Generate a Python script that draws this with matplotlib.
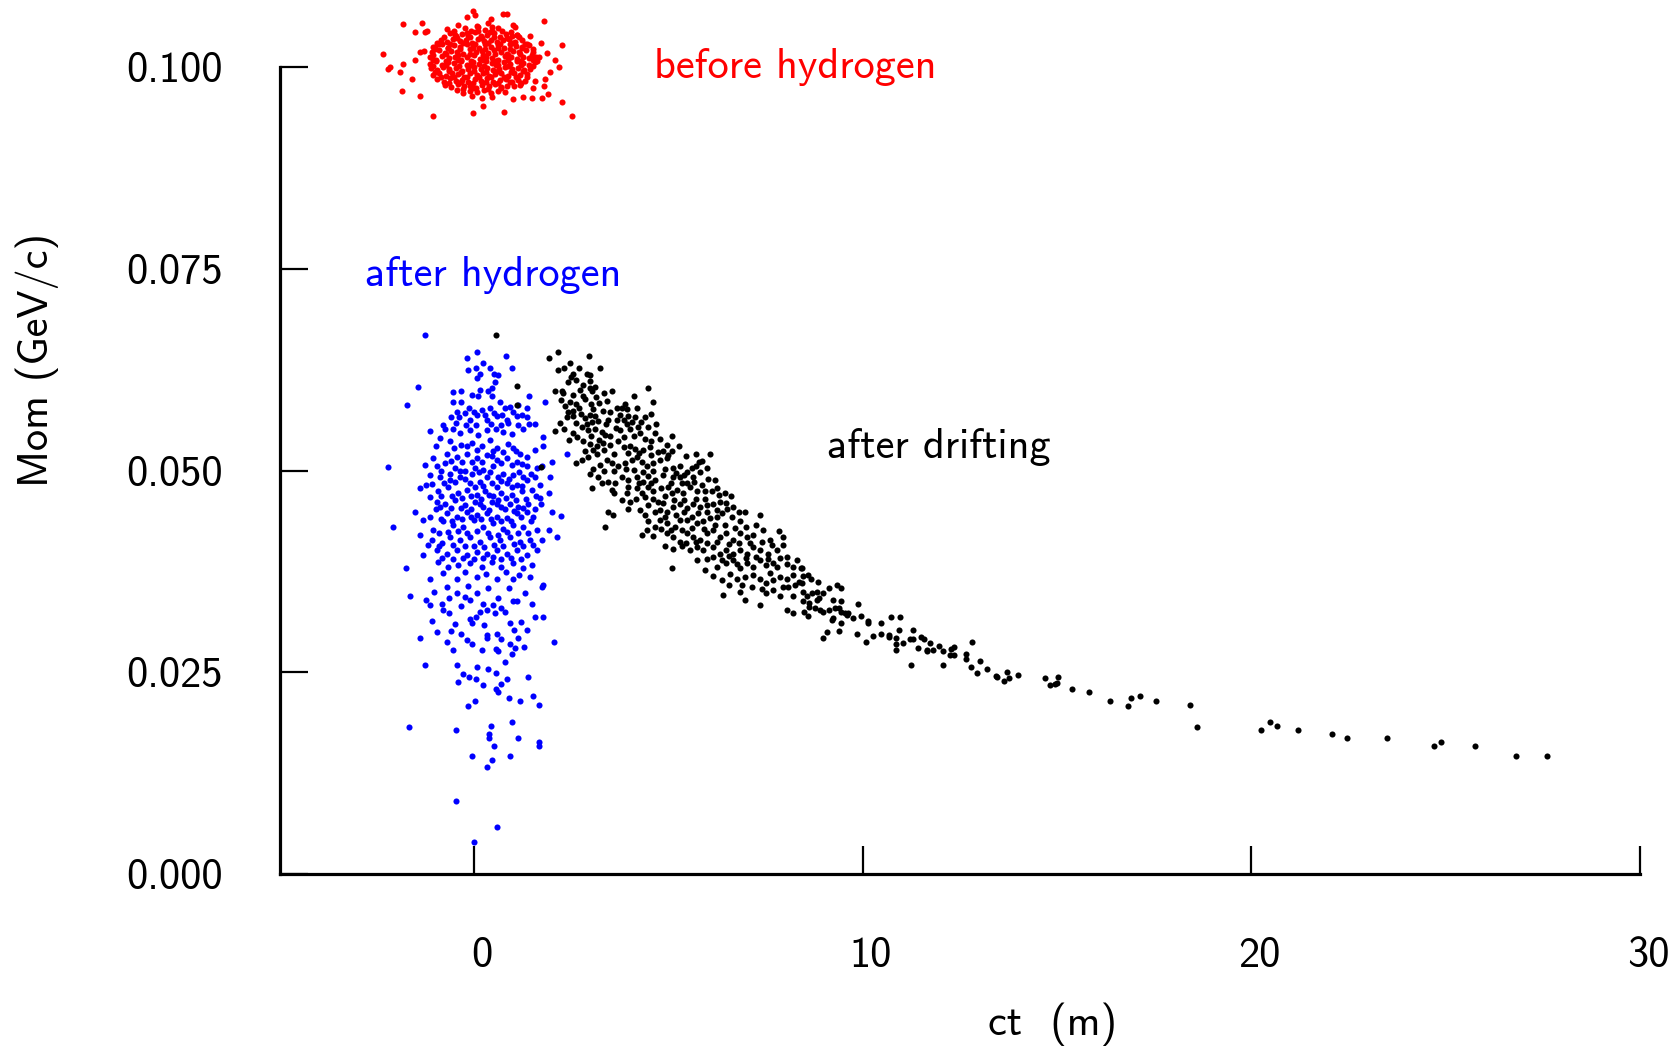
import numpy as np
import matplotlib.pyplot as plt
from matplotlib.ticker import FixedLocator, FormatStrFormatter
from matplotlib.transforms import ScaledTranslation

# Computer Modern sans, like the original LaTeX/gnuplot output
plt.rcParams['font.family'] = ['cmss10', 'DejaVu Sans']
plt.rcParams['axes.unicode_minus'] = False

# points: (ct in m, Mom in MeV/c)
before_h = [
    # core
    (-0.25, 104.8), (-0.08, 104.5), (0.10, 104.9), (0.27, 104.6), (0.45, 104.4), (0.62, 104.8),
    (-0.62, 104.2), (-0.47, 103.8), (-0.31, 104.1), (-0.15, 103.9), (0.01, 104.3), (0.17, 103.8),
    (0.33, 104.0), (0.50, 104.2), (0.66, 103.7), (0.82, 104.1), (0.98, 103.9), (1.10, 104.0),
    (-0.85, 103.4), (-0.70, 103.1), (-0.54, 103.5), (-0.38, 103.2), (-0.22, 103.3), (-0.06, 103.0),
    (0.10, 103.5), (0.26, 103.2), (0.42, 103.4), (0.58, 103.1), (0.74, 103.3), (0.90, 103.5),
    (1.06, 103.1), (1.22, 103.3),
    (-1.00, 102.5), (-0.84, 102.8), (-0.68, 102.4), (-0.52, 102.7), (-0.36, 102.5), (-0.20, 102.9),
    (-0.04, 102.6), (0.12, 102.4), (0.28, 102.8), (0.44, 102.5), (0.60, 102.7), (0.76, 102.4),
    (0.92, 102.8), (1.08, 102.6), (1.24, 102.5), (1.42, 102.7),
    (-1.08, 101.8), (-0.92, 102.1), (-0.76, 101.7), (-0.60, 102.0), (-0.44, 101.9), (-0.28, 101.6),
    (-0.12, 102.2), (0.04, 101.8), (0.20, 102.0), (0.36, 101.7), (0.52, 102.1), (0.68, 101.9),
    (0.84, 101.6), (1.00, 102.0), (1.16, 101.8), (1.32, 102.1), (1.50, 101.9),
    (-1.14, 101.2), (-0.98, 100.9), (-0.82, 101.4), (-0.66, 101.1), (-0.50, 101.3), (-0.34, 100.9),
    (-0.18, 101.2), (-0.02, 101.5), (0.14, 101.0), (0.30, 101.3), (0.46, 101.1), (0.62, 100.9),
    (0.78, 101.4), (0.94, 101.2), (1.10, 101.0), (1.26, 101.3), (1.42, 101.1), (1.58, 101.2),
    (-1.15, 100.4), (-0.99, 100.7), (-0.83, 100.3), (-0.67, 100.6), (-0.51, 100.5), (-0.35, 100.8),
    (-0.19, 100.3), (-0.03, 100.6), (0.13, 100.4), (0.29, 100.7), (0.45, 100.5), (0.61, 100.2),
    (0.77, 100.6), (0.93, 100.4), (1.09, 100.7), (1.25, 100.5), (1.41, 100.3), (1.57, 100.6),
    (-1.12, 99.9), (-0.96, 99.6), (-0.80, 100.0), (-0.64, 99.7), (-0.48, 99.9), (-0.32, 99.5),
    (-0.16, 99.8), (0.00, 100.0), (0.16, 99.7), (0.32, 99.9), (0.48, 99.6), (0.64, 99.8),
    (0.80, 100.0), (0.96, 99.7), (1.12, 99.9), (1.28, 99.6), (1.44, 99.8),
    (-1.06, 99.0), (-0.90, 99.3), (-0.74, 98.9), (-0.58, 99.2), (-0.42, 99.1), (-0.26, 98.8),
    (-0.10, 99.3), (0.06, 99.0), (0.22, 99.2), (0.38, 98.9), (0.54, 99.1), (0.70, 99.3),
    (0.86, 98.9), (1.02, 99.2), (1.18, 99.0), (1.36, 99.1),
    (-0.95, 98.5), (-0.79, 98.2), (-0.63, 98.6), (-0.47, 98.3), (-0.31, 98.4), (-0.15, 98.1),
    (0.01, 98.5), (0.17, 98.3), (0.33, 98.6), (0.49, 98.2), (0.65, 98.4), (0.81, 98.5),
    (0.97, 98.2), (1.13, 98.4), (1.30, 98.3),
    (-0.75, 97.8), (-0.59, 97.5), (-0.43, 97.9), (-0.27, 97.6), (-0.11, 97.7), (0.05, 97.4),
    (0.21, 97.8), (0.37, 97.6), (0.53, 97.9), (0.69, 97.5), (0.85, 97.7), (1.01, 97.6), (1.17, 97.8),
    (-0.45, 97.1), (-0.28, 96.8), (-0.10, 97.0), (0.08, 96.9), (0.26, 97.2), (0.44, 96.8),
    (0.62, 97.0), (0.80, 96.9), (-0.05, 96.4), (0.20, 96.1), (0.45, 96.3),
    (-0.52, 104.4), (-0.20, 104.2), (0.10, 104.4), (0.40, 104.3), (0.72, 104.5), (0.95, 104.3),
    (-0.78, 103.7), (-0.45, 103.6), (-0.12, 103.7), (0.20, 103.6), (0.52, 103.7), (0.85, 103.6),
    (1.15, 103.7), (-0.95, 103.0), (-0.62, 102.9), (-0.30, 103.0), (0.02, 102.9), (0.34, 103.0),
    (0.66, 102.9), (0.98, 103.0), (1.30, 102.9), (-1.00, 102.2), (-0.68, 102.3), (-0.36, 102.2),
    (-0.04, 102.3), (0.28, 102.2), (0.60, 102.3), (0.92, 102.2), (1.24, 102.3), (1.50, 102.2),
    (-1.06, 101.5), (-0.74, 101.6), (-0.42, 101.5), (-0.10, 101.6), (0.22, 101.5), (0.54, 101.6),
    (0.86, 101.5), (1.18, 101.6), (1.48, 101.5), (-1.05, 100.9), (-0.73, 100.8), (-0.41, 100.9),
    (-0.09, 100.8), (0.23, 100.9), (0.55, 100.8), (0.87, 100.9), (1.19, 100.8), (1.50, 100.9),
    (-1.05, 100.1), (-0.72, 100.2), (-0.40, 100.1), (-0.08, 100.2), (0.24, 100.1), (0.56, 100.2),
    (0.88, 100.1), (1.20, 100.2), (1.50, 100.1), (-1.00, 99.4), (-0.66, 99.5), (-0.34, 99.4),
    (-0.02, 99.5), (0.30, 99.4), (0.62, 99.5), (0.94, 99.4), (1.26, 99.5), (-0.85, 98.7),
    (-0.52, 98.8), (-0.20, 98.7), (0.12, 98.8), (0.44, 98.7), (0.76, 98.8), (1.08, 98.7),
    (1.35, 98.8), (-0.65, 98.0), (-0.35, 98.1), (-0.03, 98.0), (0.29, 98.1), (0.61, 98.0),
    (0.93, 98.1), (1.20, 98.0), (-0.30, 97.3), (0.00, 97.4), (0.35, 97.3), (0.70, 97.4),
    # halo
    (-1.83, 105.3), (-1.34, 105.4), (-1.53, 104.3), (-1.27, 104.3), (-1.21, 104.5), (-2.34, 101.6),
    (-2.21, 99.8), (-2.17, 100.0), (-1.87, 97.0), (-1.91, 99.4), (-1.83, 100.4), (-1.61, 98.5),
    (-1.53, 100.9), (-1.40, 96.4), (-1.41, 101.8), (-1.29, 102.0), (-1.05, 93.9), (-0.04, 106.9),
    (-0.20, 106.2), (0.02, 106.4), (0.73, 106.6), (0.85, 106.6), (0.42, 106.0), (0.34, 105.5),
    (1.79, 105.7), (2.27, 102.7), (2.08, 100.9), (2.19, 100.0), (1.95, 99.4), (1.82, 98.5),
    (1.80, 97.6), (1.89, 96.7), (1.50, 97.4), (1.48, 96.2), (1.73, 96.1), (2.25, 95.7),
    (2.51, 93.9), (0.77, 94.4), (-0.04, 94.3), (0.23, 95.2), (1.00, 96.0), (1.26, 96.3),
    (1.56, 98.3), (1.61, 100.7), (1.67, 101.2), (1.86, 101.7), (1.72, 103.0), (1.43, 103.8),
    (1.00, 105.2), (1.05, 104.9), (1.09, 104.0), (1.35, 102.9), (0.45, 105.0), (0.06, 105.1),
    (-0.41, 105.2), (-0.71, 104.7), (-0.50, 104.0), (-0.90, 102.9), (-1.05, 102.5),
]

after_h = [
    (-1.27, 66.8), (0.06, 64.7), (-0.20, 64.0), (0.81, 64.2), (0.22, 63.3), (-0.15, 62.5),
    (0.04, 62.7), (0.96, 62.7), (0.40, 62.7), (0.15, 62.0), (0.52, 61.9), (0.62, 61.8),
    (0.06, 61.5), (0.53, 61.0), (-1.44, 60.4), (-0.54, 59.7), (-0.33, 59.9), (-0.07, 59.3),
    (0.15, 60.0), (0.34, 59.9), (0.10, 59.2), (0.45, 60.2), (0.45, 59.2), (1.42, 59.2),
    (-1.74, 58.1), (-0.54, 58.5), (-0.33, 58.5), (-0.13, 57.8), (0.19, 57.5), (0.40, 57.7),
    (0.66, 58.5), (0.79, 57.7), (0.92, 57.9), (1.13, 58.1), (1.35, 57.8), (1.82, 58.5),
    (-0.61, 56.6), (-0.39, 56.6), (-0.11, 56.3), (0.06, 56.9), (0.32, 56.3), (0.58, 56.7),
    (0.83, 56.3), (1.09, 56.7), (1.35, 56.6), (1.56, 55.8), (-1.14, 54.9), (-0.75, 55.2),
    (-0.54, 55.2), (-0.37, 54.6), (-0.11, 55.0), (0.10, 54.4), (0.32, 55.0), (0.56, 55.2),
    (0.75, 54.8), (0.96, 54.5), (1.26, 55.2), (1.78, 54.2), (-0.88, 54.0), (-0.63, 53.6),
    (-0.33, 53.2), (-0.07, 53.4), (0.19, 53.0), (0.40, 53.8), (0.58, 52.8), (0.75, 52.3),
    (1.00, 52.8), (1.18, 52.1), (1.35, 51.7), (1.76, 53.0), (-0.71, 52.1), (-0.45, 51.7),
    (-0.20, 52.1), (0.06, 51.5), (0.32, 51.9), (0.58, 51.3), (0.83, 51.5), (1.09, 51.1),
    (1.35, 50.5), (2.38, 52.0), (-2.21, 50.4), (-1.27, 50.7), (-0.97, 50.5), (-0.75, 50.9),
    (-0.50, 50.3), (-0.24, 49.9), (0.02, 50.3), (0.23, 50.1), (0.49, 50.5), (0.75, 49.6),
    (1.00, 49.4), (1.26, 49.2), (1.61, 50.3), (1.73, 50.5), (1.99, 51.1), (-1.10, 48.3),
    (-0.88, 49.2), (-0.63, 48.8), (-0.37, 49.2), (-0.11, 48.4), (0.15, 48.6), (0.32, 49.2),
    (0.58, 48.0), (0.83, 48.4), (1.09, 48.2), (1.35, 48.8), (1.56, 49.2), (1.95, 49.2),
    (-1.41, 47.8), (-0.93, 47.4), (-0.67, 48.0), (-0.41, 47.2), (-0.20, 47.6), (0.06, 47.0),
    (0.28, 47.4), (0.49, 46.8), (0.70, 47.2), (0.96, 47.0), (1.22, 47.4), (1.48, 47.6),
    (1.69, 46.6), (1.91, 47.2), (-0.97, 46.1), (-0.75, 45.9), (-0.50, 46.3), (-0.24, 45.7),
    (0.02, 46.1), (0.23, 45.5), (0.45, 46.1), (0.70, 45.5), (0.92, 45.9), (1.13, 45.5),
    (1.39, 45.9), (1.71, 45.9), (-1.53, 44.9), (-0.99, 45.2), (-0.71, 44.7), (-0.45, 44.3),
    (-0.20, 44.9), (0.06, 44.5), (0.32, 44.7), (0.58, 44.3), (0.83, 44.1), (1.09, 44.7),
    (1.35, 44.9), (1.52, 44.3), (1.99, 44.9), (2.23, 44.4), (-2.08, 43.0), (-1.31, 43.9),
    (-1.05, 42.6), (-0.80, 43.7), (-0.54, 43.2), (-0.28, 43.0), (-0.02, 43.9), (0.23, 43.0),
    (0.49, 43.5), (0.75, 42.8), (1.00, 43.2), (1.26, 43.0), (1.61, 42.6), (1.91, 42.6),
    (-1.40, 42.0), (-1.10, 41.4), (-0.84, 41.0), (-0.63, 41.8), (-0.37, 41.4), (-0.11, 41.8),
    (0.15, 41.2), (0.40, 41.8), (0.66, 41.4), (0.92, 41.8), (1.18, 41.2), (1.43, 41.4),
    (1.73, 41.4), (2.12, 41.8), (-1.31, 39.5), (-0.97, 40.2), (-0.71, 39.7), (-0.45, 40.2),
    (-0.20, 39.5), (0.06, 39.9), (0.32, 39.7), (0.58, 40.2), (0.83, 39.7), (1.09, 40.2),
    (1.35, 39.5), (1.61, 40.2), (-1.76, 37.9), (-0.93, 38.7), (-0.67, 38.1), (-0.41, 38.3),
    (-0.11, 38.5), (0.19, 38.1), (0.45, 38.7), (0.70, 38.1), (1.00, 38.5), (1.26, 37.9),
    (1.48, 38.3), (-1.14, 36.6), (-0.45, 36.6), (0.06, 36.8), (0.58, 36.6), (1.00, 36.6),
    (1.43, 36.8),
    (-1.65, 34.5), (-1.03, 35.0), (-1.23, 34.0), (-1.14, 33.3), (-0.84, 33.5), (-0.65, 34.2),
    (-0.80, 32.7), (-0.66, 32.4), (-0.45, 34.8), (-0.24, 34.3), (-0.11, 34.0), (0.06, 34.8),
    (0.23, 33.5), (0.15, 32.5), (0.32, 32.7), (0.49, 33.3), (0.53, 32.3), (0.70, 32.9),
    (0.79, 32.5), (1.00, 33.8), (1.09, 33.8), (1.30, 34.8), (1.48, 33.5), (1.73, 35.6),
    (1.78, 35.8), (-1.10, 31.3), (-0.97, 30.0), (-0.61, 30.1), (-0.35, 29.8), (-0.11, 31.6),
    (-0.05, 31.1), (0.04, 31.9), (0.32, 29.6), (0.58, 29.8), (0.70, 29.1), (0.92, 31.1),
    (1.03, 30.2), (1.35, 30.2), (1.56, 31.8), (1.78, 31.8), (-1.41, 29.3), (-0.71, 28.7),
    (-0.54, 27.7), (-0.05, 28.5), (0.21, 27.8), (0.32, 29.2), (0.56, 27.9), (0.62, 27.6),
    (0.92, 28.5), (0.96, 27.2), (1.06, 28.0), (1.12, 29.2), (1.28, 28.1), (2.06, 28.7),
    (-1.27, 25.9), (-0.45, 25.9), (-0.28, 24.8), (-0.43, 23.8), (-0.13, 24.4), (0.04, 24.2),
    (0.06, 25.6), (0.36, 25.4), (0.56, 24.9), (0.70, 23.6), (0.85, 24.2), (0.23, 23.4),
    (0.56, 22.9), (0.62, 22.5), (0.90, 21.8), (1.18, 21.4), (1.38, 24.4), (1.52, 22.0),
    (1.66, 20.9), (-0.15, 20.8), (0.03, 21.4), (-1.68, 18.2), (-0.47, 17.9), (0.43, 18.3),
    (0.39, 17.3), (0.39, 16.9), (0.51, 15.9), (0.97, 18.8), (1.13, 16.8), (1.67, 16.3),
    (1.67, 15.9), (-0.05, 14.6), (0.46, 14.1), (0.92, 14.6), (0.32, 13.2), (-0.48, 9.1),
    (0.58, 5.8), (-0.02, 4.0),
    (-0.45, 57.2), (-0.25, 57.1), (0.00, 57.2), (0.28, 56.9), (0.50, 57.1), (0.72, 56.9),
    (1.00, 57.2), (1.22, 56.9), (-0.80, 55.6), (-0.48, 55.9), (-0.22, 55.7), (0.05, 55.6),
    (0.42, 55.8), (0.68, 55.6), (0.88, 55.9), (1.12, 55.6), (1.40, 55.8), (-0.98, 53.0),
    (-0.52, 52.8), (-0.18, 53.0), (0.08, 52.6), (0.48, 52.4), (0.88, 53.3), (1.08, 52.4),
    (1.55, 52.6), (-1.05, 51.6), (-0.60, 51.2), (-0.32, 51.0), (-0.05, 51.0), (0.20, 51.1),
    (0.45, 51.8), (0.70, 50.9), (0.98, 50.7), (1.22, 50.8), (-1.15, 49.5), (-0.85, 50.0),
    (-0.62, 49.6), (-0.38, 50.0), (-0.05, 49.6), (0.12, 49.8), (0.40, 49.8), (0.62, 49.2),
    (0.90, 48.9), (1.15, 49.8), (1.45, 49.6), (-1.25, 48.2), (-0.78, 48.4), (-0.50, 48.6),
    (-0.25, 48.9), (0.02, 48.0), (0.22, 48.1), (0.45, 48.4), (0.70, 48.7), (0.98, 47.9),
    (1.22, 48.1), (1.70, 48.2), (-1.15, 46.7), (-0.85, 46.8), (-0.58, 46.9), (-0.32, 46.6),
    (-0.08, 46.8), (0.18, 46.5), (0.38, 47.0), (0.60, 46.4), (0.82, 46.6), (1.08, 46.3),
    (1.32, 46.5), (1.58, 46.8), (-0.88, 45.5), (-0.60, 45.3), (-0.35, 45.3), (-0.08, 45.2),
    (0.15, 45.9), (0.38, 45.1), (0.58, 45.9), (0.80, 45.2), (1.02, 45.0), (1.25, 45.3),
    (1.55, 45.2), (-1.15, 44.3), (-0.85, 44.0), (-0.58, 43.8), (-0.32, 44.0), (-0.08, 44.3),
    (0.18, 44.0), (0.42, 44.0), (0.70, 43.7), (0.95, 43.8), (1.20, 44.2), (1.45, 43.7),
    (-0.92, 42.2), (-0.68, 42.4), (-0.42, 42.5), (-0.18, 42.3), (0.08, 42.5), (0.35, 42.3),
    (0.60, 42.0), (0.85, 42.4), (1.12, 42.3), (1.38, 42.2), (-1.20, 40.8), (-0.90, 40.6),
    (-0.55, 40.8), (-0.25, 40.6), (0.00, 40.6), (0.25, 40.5), (0.50, 40.8), (0.75, 40.6),
    (1.02, 40.9), (1.25, 40.6), (1.52, 40.8), (-0.82, 39.1), (-0.55, 39.0), (-0.30, 39.2),
    (-0.02, 39.0), (0.22, 39.2), (0.48, 39.3), (0.70, 39.0), (0.95, 39.1), (1.20, 39.0),
    (-0.80, 37.3), (-0.25, 37.4), (0.30, 37.2), (0.82, 37.4), (1.15, 37.1), (-0.70, 35.6),
    (-0.15, 35.7), (0.35, 35.4), (0.90, 35.5), (-0.35, 33.2), (0.60, 34.2), (-0.50, 31.0),
    (0.25, 30.8), (1.20, 31.2), (-0.20, 29.0), (0.80, 26.3),
]

after_drift = [
    (0.56, 66.8), (1.10, 58.1), (1.10, 60.5), (1.72, 50.4),
    (1.93, 64.0), (2.16, 64.7), (2.94, 64.2), (2.16, 62.5), (2.31, 62.7), (2.46, 63.3),
    (2.70, 62.7), (2.48, 61.6), (2.53, 62.0), (2.89, 62.0), (2.99, 61.8), (2.98, 61.1),
    (3.24, 62.7), (2.08, 59.8), (2.27, 59.9), (2.29, 59.6), (2.55, 59.3), (2.72, 60.0),
    (2.79, 59.2), (2.98, 60.2), (3.02, 59.8), (2.22, 58.7), (2.33, 58.0), (2.46, 58.5),
    (2.63, 58.3), (2.70, 57.8), (2.55, 57.4), (2.85, 58.8), (3.13, 59.1), (3.22, 58.4),
    (3.41, 58.6), (3.30, 57.4), (3.06, 57.6), (3.66, 57.8), (3.79, 57.7), (3.88, 58.3),
    (3.94, 57.6), (4.11, 59.2), (4.20, 57.8), (4.48, 60.2), (4.59, 58.5), (2.38, 56.6),
    (2.53, 56.7), (2.85, 56.5), (2.98, 56.9), (3.11, 56.7), (3.19, 56.1), (2.89, 55.8),
    (3.45, 56.3), (3.66, 56.3), (3.75, 56.9), (3.96, 56.7), (4.14, 56.6), (4.39, 56.6),
    (2.08, 54.9), (2.31, 55.2), (2.53, 54.6), (2.76, 55.4), (2.93, 55.0), (3.11, 55.2),
    (3.28, 54.8), (3.36, 54.4), (3.65, 55.3), (3.75, 55.0), (3.94, 55.8), (4.01, 55.2),
    (4.22, 55.4), (4.26, 54.6), (4.48, 55.4), (4.68, 55.8), (4.78, 53.9), (4.56, 53.6),
    (5.09, 54.3), (2.81, 53.6), (2.98, 53.3), (3.15, 53.0), (3.32, 53.4), (3.49, 53.2),
    (3.71, 53.6), (3.84, 52.9), (4.01, 53.0), (4.14, 52.7), (4.35, 52.6), (4.52, 52.9),
    (4.74, 52.3), (4.99, 51.9), (5.28, 53.0), (2.63, 50.9), (2.76, 51.3), (2.93, 51.7),
    (3.15, 52.1), (3.24, 50.7), (3.41, 51.3), (3.54, 50.9), (3.71, 50.5), (3.88, 50.9),
    (4.05, 51.3), (4.18, 51.7), (4.31, 51.1), (4.44, 50.5), (4.61, 50.9), (4.78, 51.3),
    (4.95, 51.6), (5.12, 50.3), (5.29, 50.5), (5.47, 49.8), (5.59, 50.3), (5.79, 51.0),
    (5.85, 51.2), (6.07, 52.0), (2.98, 49.6), (3.19, 49.2), (3.45, 48.6), (3.62, 48.4),
    (3.79, 49.2), (3.96, 48.8), (4.18, 49.2), (4.35, 48.6), (4.48, 49.3), (4.65, 48.8),
    (4.86, 49.4), (4.99, 48.0), (5.12, 49.2), (5.29, 49.2), (5.47, 48.4), (5.64, 49.2),
    (5.81, 49.8), (5.98, 50.3), (6.02, 49.0), (3.28, 48.4), (3.54, 47.6), (3.02, 47.8),
    (3.79, 46.3), (4.01, 46.1), (3.92, 47.2), (4.18, 47.8), (4.31, 47.2), (4.48, 48.0),
    (4.61, 47.4), (4.74, 46.1), (4.91, 46.8), (5.08, 47.2), (5.21, 47.6), (5.38, 47.2),
    (5.55, 48.0), (5.72, 47.4), (5.94, 47.4), (6.11, 47.5), (6.24, 47.8), (6.45, 47.2),
    (3.96, 45.2), (4.26, 45.1), (4.48, 45.7), (4.65, 44.9), (4.78, 45.1), (4.95, 44.9),
    (5.12, 45.5), (5.29, 45.9), (5.47, 45.3), (5.64, 45.9), (5.81, 45.5), (5.98, 45.7),
    (6.15, 45.9), (6.32, 46.1), (6.49, 46.0), (6.67, 45.5), (3.45, 44.9), (3.56, 44.5),
    (3.36, 43.0), (4.48, 43.7), (4.65, 43.0), (4.78, 43.9), (4.95, 43.5), (5.16, 43.0),
    (5.29, 43.9), (5.47, 43.9), (5.59, 44.3), (5.72, 43.5), (5.89, 43.7), (6.07, 44.1),
    (6.24, 44.3), (6.37, 44.7), (6.62, 44.3), (6.84, 43.7), (6.97, 44.9), (4.31, 42.0),
    (4.44, 42.6), (4.61, 41.9), (4.95, 42.2), (5.12, 41.8), (5.29, 41.2), (5.47, 42.2),
    (5.64, 41.8), (5.81, 41.4), (5.98, 42.2), (6.15, 42.6), (6.32, 41.8), (6.49, 42.2),
    (6.67, 41.4), (6.84, 42.2), (7.01, 41.8), (7.18, 42.0), (7.35, 44.5), (7.44, 42.6),
    (7.61, 41.4), (7.85, 42.5), (7.95, 41.8), (4.91, 40.7), (5.12, 40.3), (5.34, 40.7),
    (5.55, 40.1), (5.72, 40.5), (5.89, 40.1), (6.15, 40.5), (6.32, 39.7), (6.49, 40.1),
    (6.67, 39.7), (6.84, 40.1), (7.01, 39.7), (7.18, 40.5), (7.35, 40.1), (7.57, 39.7),
    (7.78, 40.1), (5.08, 37.9), (5.72, 38.9), (5.94, 37.7), (6.15, 39.3), (6.37, 38.9),
    (6.49, 38.5), (6.67, 38.9), (6.84, 37.9), (7.01, 38.5), (7.18, 38.1), (7.35, 38.9),
    (7.52, 38.3), (7.70, 38.5), (7.87, 39.1), (8.04, 39.3), (8.21, 38.1), (8.42, 37.9),
    (6.15, 36.9), (6.37, 36.4), (6.58, 37.2), (6.75, 36.6), (6.97, 36.8), (7.18, 37.0),
    (7.35, 36.6), (7.52, 36.0), (7.70, 36.4), (7.87, 36.8), (8.04, 36.6), (8.21, 37.0),
    (6.39, 34.6), (6.84, 35.0), (6.97, 34.0), (7.35, 33.3), (7.52, 34.8), (7.70, 35.2),
    (7.87, 34.4), (8.08, 35.6), (8.25, 35.8), (8.04, 32.7), (8.21, 32.4),
    (2.40, 61.0), (2.62, 61.2), (2.80, 60.6), (3.10, 60.3), (3.35, 59.6), (2.40, 57.2),
    (2.75, 57.0), (3.00, 58.3), (3.50, 57.2), (3.55, 59.8), (2.20, 55.9), (2.62, 55.9),
    (3.02, 56.0), (3.40, 55.8), (3.85, 56.2), (4.05, 56.0), (4.30, 56.0), (4.55, 57.0),
    (2.45, 53.8), (2.65, 54.2), (3.00, 54.3), (3.20, 53.8), (3.50, 54.3), (3.85, 54.2),
    (4.10, 54.3), (4.40, 53.9), (4.65, 54.6), (4.95, 53.2), (2.85, 52.4), (3.05, 52.6),
    (3.35, 52.5), (3.60, 52.1), (3.95, 52.2), (4.25, 52.2), (4.55, 51.9), (4.85, 52.4),
    (5.10, 52.4), (5.45, 51.8), (5.70, 52.0), (3.05, 50.2), (3.35, 50.0), (3.60, 49.9),
    (3.90, 50.2), (4.10, 50.1), (4.35, 49.8), (4.60, 50.0), (4.90, 50.2), (5.20, 49.7),
    (5.40, 49.5), (5.70, 50.5), (3.60, 47.2), (3.95, 47.9), (4.25, 48.4), (4.55, 48.4),
    (4.80, 47.8), (5.05, 48.5), (5.35, 48.4), (5.65, 48.6), (5.85, 48.2), (6.20, 48.8),
    (4.15, 46.5), (4.40, 46.7), (4.60, 46.5), (4.85, 46.0), (5.15, 46.3), (5.40, 46.4),
    (5.70, 46.5), (5.95, 46.5), (6.30, 47.0), (6.60, 46.8), (4.40, 44.5), (4.90, 44.2),
    (5.20, 44.5), (5.40, 44.8), (5.75, 44.7), (6.00, 44.9), (6.25, 45.1), (6.50, 45.2),
    (6.80, 44.8), (4.80, 42.8), (5.05, 42.6), (5.35, 42.6), (5.60, 42.9), (5.90, 42.8),
    (6.20, 43.3), (6.45, 43.3), (6.70, 42.9), (7.00, 43.0), (7.25, 43.2), (5.45, 41.0),
    (5.70, 41.2), (6.00, 41.0), (6.25, 41.2), (6.55, 40.9), (6.80, 41.0), (7.10, 41.0),
    (7.40, 41.2), (7.65, 40.8), (7.95, 40.8), (6.00, 39.0), (6.25, 38.0), (6.55, 39.4),
    (6.75, 38.4), (7.00, 39.2), (7.25, 39.3), (7.55, 39.0), (7.80, 38.0), (8.05, 38.4),
    (8.30, 38.9), (6.55, 35.8), (6.90, 35.8), (7.15, 35.6), (7.40, 35.3), (7.60, 37.3),
    (7.95, 35.6), (8.20, 34.5), (8.35, 36.2),
    # thinning tail
    (8.43, 37.9), (8.45, 36.9), (8.43, 36.0), (8.47, 35.0), (8.55, 34.4), (8.60, 37.1),
    (8.66, 36.5), (8.85, 36.2), (9.14, 35.4), (9.33, 35.8), (9.45, 35.5), (8.45, 33.8),
    (8.62, 33.6), (8.68, 34.8), (8.81, 35.0), (8.98, 34.8), (8.81, 34.0), (8.88, 34.2),
    (8.62, 33.1), (8.77, 32.9), (8.90, 32.7), (8.98, 32.5), (9.14, 32.7), (9.24, 34.0),
    (9.43, 33.8), (9.28, 32.9), (9.39, 32.9), (9.45, 32.5), (9.54, 32.3), (9.63, 32.3),
    (9.24, 31.7), (9.20, 31.5), (9.45, 31.1), (8.49, 32.5), (8.60, 32.0), (9.88, 33.5),
    (9.95, 32.0), (9.74, 31.7), (9.58, 32.1), (10.14, 31.3), (10.12, 31.1), (10.47, 31.1),
    (10.72, 31.8), (10.96, 31.8), (8.98, 29.3), (9.07, 30.0), (9.39, 30.1), (9.84, 29.8),
    (10.07, 28.7), (10.25, 29.5), (10.47, 29.7), (10.66, 29.4), (10.68, 29.6), (10.84, 29.2),
    (10.93, 30.2), (10.84, 28.5), (10.84, 27.8), (11.04, 28.6), (11.21, 29.1), (11.28, 29.1),
    (11.28, 30.2), (11.49, 29.4), (11.57, 29.1), (11.73, 28.6), (11.43, 28.0), (11.64, 27.8),
    (11.66, 27.6), (11.81, 27.8), (11.97, 28.2), (12.05, 27.6), (12.27, 27.9), (12.35, 28.1),
    (12.24, 27.1), (12.35, 27.1), (12.65, 27.2), (12.65, 26.7), (12.82, 28.7), (11.24, 25.9),
    (12.07, 25.9), (12.78, 25.6), (13.01, 26.4), (12.95, 24.9), (13.19, 25.4), (13.42, 24.5),
    (13.44, 24.4), (13.64, 23.9), (13.72, 25.0), (13.77, 24.3), (13.98, 24.7), (14.69, 24.3),
    (14.82, 23.4), (14.94, 23.6), (14.99, 23.7), (15.01, 24.4), (15.37, 22.9), (15.81, 22.5),
    (16.37, 21.4), (16.83, 20.8), (16.90, 21.8), (17.13, 22.0), (17.54, 21.4), (18.42, 20.9),
    (18.61, 18.2), (20.25, 17.9), (20.48, 18.8), (20.67, 18.3), (21.21, 17.8), (22.07, 17.3),
    (22.45, 16.9), (23.49, 16.8), (24.71, 15.9), (24.87, 16.4), (25.75, 15.9), (26.81, 14.6),
    (27.61, 14.6),
]

x_ticks = [0, 10, 20, 30]
y_ticks = [0.0, 0.025, 0.05, 0.075, 0.1]

red_pts = np.array(before_h)
blue_pts = np.array(after_h)
black_pts = np.array(after_drift)

fig = plt.figure(figsize=(16.77, 10.51), dpi=100)
ax = fig.add_axes([0.16697, 0.16841, 0.81097, 0.76784])

for pts, col in [(red_pts, '#ff0000'), (blue_pts, '#0000ff'), (black_pts, '#000000')]:
    ax.plot(pts[:, 0], pts[:, 1] / 1000.0, 'o', color=col, ms=4.4, mew=0, clip_on=False)

ax.set_xlim(-5, 30)
ax.set_ylim(0, 0.1)
ax.xaxis.set_major_locator(FixedLocator(x_ticks))
ax.yaxis.set_major_locator(FixedLocator(y_ticks))
ax.yaxis.set_major_formatter(FormatStrFormatter('%.3f'))

for s in ['top', 'right']:
    ax.spines[s].set_visible(False)
for s in ['left', 'bottom']:
    ax.spines[s].set_linewidth(2.3)

ax.tick_params(axis='both', direction='in', length=20, width=1.6, labelsize=30.5)
ax.tick_params(axis='x', pad=45)
ax.tick_params(axis='y', pad=41)

# x labels sit a little right of their ticks in the original
off = ScaledTranslation(8 / 100, 0, fig.dpi_scale_trans)
for lab in ax.get_xticklabels():
    lab.set_transform(lab.get_transform() + off)

ax.text(4.62, 0.0986, 'before hydrogen', color='#ff0000', fontsize=30.5, va='baseline')
ax.text(-2.80, 0.0729, 'after hydrogen', color='#0000ff', fontsize=30.5, va='baseline')
ax.text(9.07, 0.0516, 'after drifting', color='#000000', fontsize=30.5, va='baseline')

fig.text(1052 / 1677, 1 - 1035 / 1051, 'ct  (m)', fontsize=30.5, ha='center', va='baseline')
fig.text(37 / 1677, 1 - 360 / 1051, 'Mom (GeV/c)', fontsize=30.5, rotation=90,
         ha='center', va='center')

fig.savefig('out.png', dpi=100)
